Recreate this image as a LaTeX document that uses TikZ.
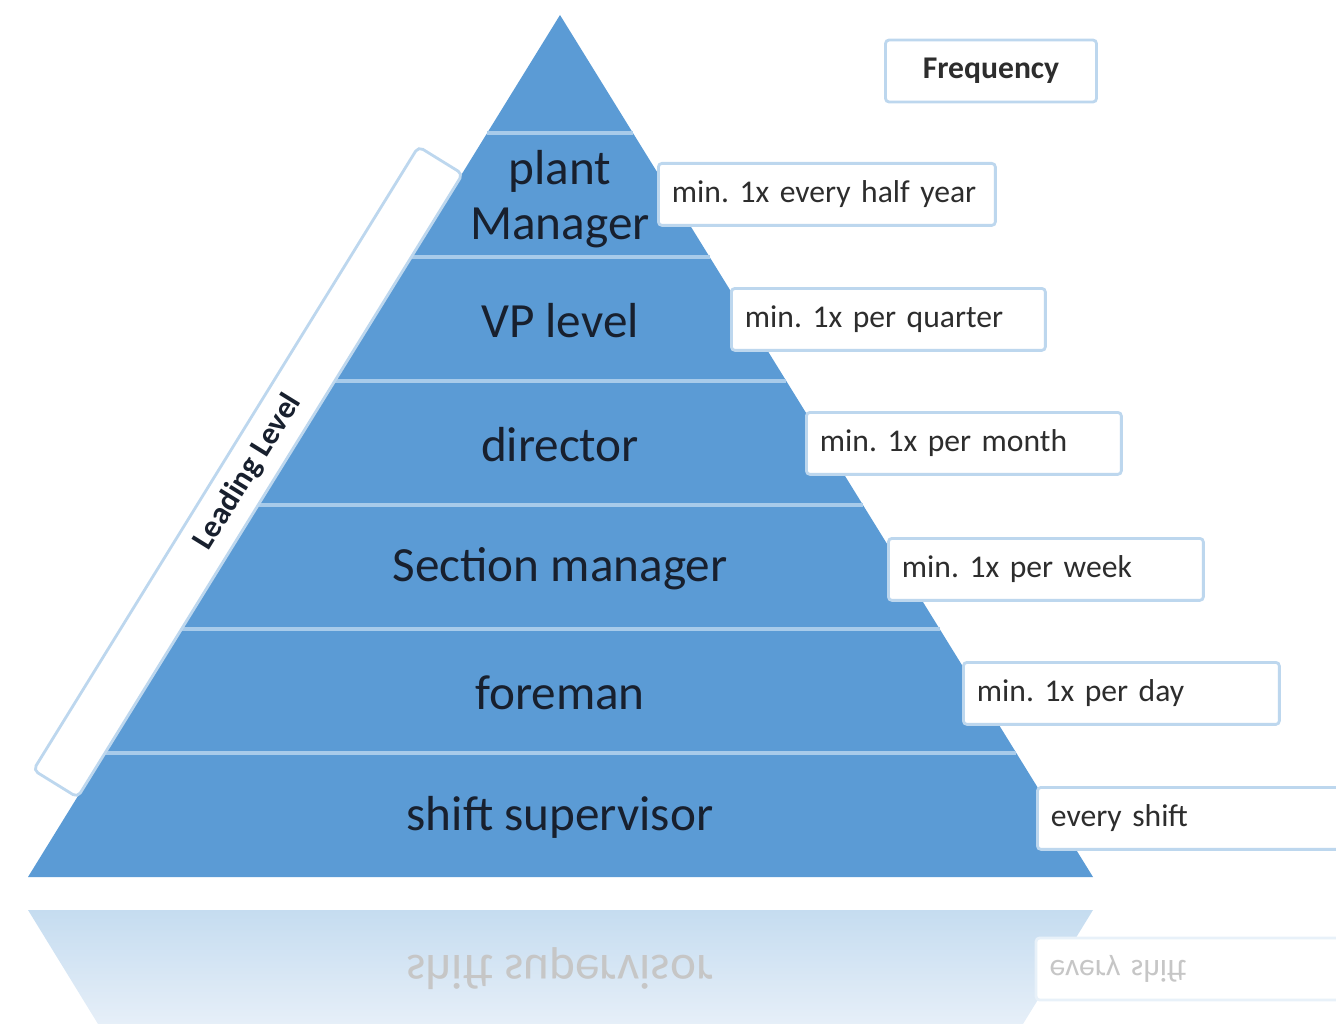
\documentclass[tikz,border=0pt]{standalone}
\usepackage{fontspec}
\setmainfont{Carlito}
\definecolor{pyrblue}{RGB}{91,155,213}
\definecolor{sepline}{RGB}{168,203,234}
\definecolor{boxblue}{RGB}{189,215,238}
\definecolor{lvltext}{RGB}{24,32,46}
\definecolor{freqtext}{RGB}{45,45,45}
\definecolor{reflA}{RGB}{197,220,240}
\definecolor{reflB}{RGB}{230,239,248}
\newcommand{\levelfont}{\fontsize{28}{31.5}\selectfont}
\newcommand{\freqfont}{\fontsize{18}{22}\selectfont}
\frenchspacing

\begin{document}
\begin{tikzpicture}[x=0.02cm, y=-0.02cm, semithick]
\tikzstyle{level} = [text=lvltext, align=center, font=\levelfont]
\tikzstyle{freqbox} = [rectangle, draw=boxblue, line width=1.6pt, fill=white,
rounded corners=2pt, minimum height=1.24cm, inner xsep=0.27cm, anchor=north west, align=left, font=\freqfont, text=freqtext]
\tikzstyle{leadbox} = [rectangle, draw=boxblue, line width=1.6pt, fill=white,
rounded corners=3pt, font=\freqfont\bfseries, text=lvltext]
\useasboundingbox (0,0) rectangle (1336,1024);
%% pyramid
\fill[pyrblue] (560,15) -- (1093,877) -- (28,877) -- cycle;
\draw[sepline, line width=2pt] (487.2,133) -- (633.0,133);
\draw[sepline, line width=2pt] (410.6,257) -- (709.6,257);
\draw[sepline, line width=2pt] (334.1,381) -- (786.3,381);
\draw[sepline, line width=2pt] (257.6,505) -- (863.0,505);
\draw[sepline, line width=2pt] (181.0,629) -- (939.6,629);
\draw[sepline, line width=2pt] (104.5,753) -- (1016.3,753);
%% reflection
\shade[top color=reflA, bottom color=reflB] (28,910) -- (1093,910) -- (1023,1024) -- (98,1024) -- cycle;
\node[level, text=gray!45, yscale=-1] at (560,969) (R6){shift supervisor};
\node[freqbox, draw=boxblue!35, text=gray!45, anchor=center, yscale=-1, text width=5.78cm] at (1194,969) (RF6){every shift};
%% levels
\node[level] at (560,199) (L1){plant\\Manager};
\node[level] at (560,321) (L2){VP level};
\node[level] at (560,445) (L3){director};
\node[level] at (560,569) (L4){Section manager};
\node[level] at (560,693) (L5){foreman};
\node[level] at (560,817) (L6){shift supervisor};
%% leading level
\node[leadbox, rotate=58.3, minimum width=14.66cm, minimum height=1.04cm] at (248,472) (LL){Leading Level};
%% frequencies
\node[freqbox, anchor=center, font=\freqfont\bfseries, minimum width=4.22cm] at (991,71) (F0){Frequency};
\node[freqbox, text width=6.20cm] at (657,162) (F1){\mbox{min. 1x every half year}};
\node[freqbox, text width=5.74cm] at (730,287) (F2){min. 1x per quarter};
\node[freqbox, text width=5.76cm] at (805,411) (F3){min. 1x per month};
\node[freqbox, text width=5.76cm] at (887,537) (F4){min. 1x per week};
\node[freqbox, text width=5.78cm] at (962,661) (F5){min. 1x per day};
\node[freqbox, text width=5.78cm] at (1036,786) (F6){every shift};
\end{tikzpicture}
\end{document}
